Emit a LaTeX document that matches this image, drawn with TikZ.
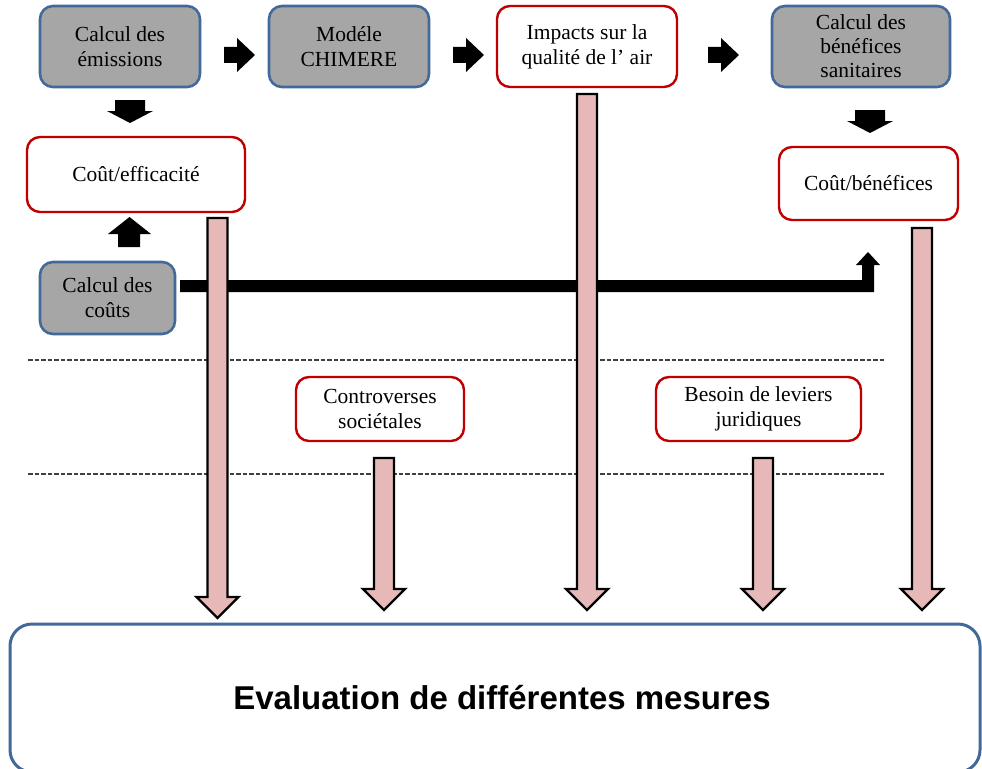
\documentclass[tikz,border=0pt]{standalone}
\usepackage{fontspec}
\setmainfont{Liberation Serif}
\newfontfamily\evalfont{Liberation Sans}
\definecolor{boxgray}{HTML}{A6A6A6}
\definecolor{boxblue}{HTML}{41699A}
\definecolor{boxred}{HTML}{C00000}
\definecolor{barpink}{HTML}{E6B9B8}
\definecolor{dashgray}{HTML}{404040}
\tikzset{
  graybox/.style={draw=boxblue, fill=boxgray, line width=2.6pt, rounded corners=13pt,
    align=center, inner sep=0pt, font=\fontsize{21.5}{25}\selectfont},
  redbox/.style={draw=boxred, fill=white, line width=2.4pt, rounded corners=13pt,
    align=center, inner sep=0pt, font=\fontsize{21.5}{25}\selectfont},
  blackarrow/.style={fill=black, draw=none},
  pinkbar/.style={fill=barpink, draw=black, line width=2.4pt, line join=miter},
  sepline/.style={draw=dashgray, line width=1.6pt, dash pattern=on 4.5pt off 2pt},
}
% block arrow pointing right: #1 = left x, #2 = centre y
\newcommand{\rblock}[2]{\fill[blackarrow] (#1,#2-8) -- (#1+13,#2-8) -- (#1+13,#2-17) -- (#1+31,#2) -- (#1+13,#2+17) -- (#1+13,#2+8) -- (#1,#2+8) -- cycle;}
% flat block arrow pointing down: #1 = centre x, #2 = top y
\newcommand{\dblock}[2]{\fill[blackarrow] (#1-15,#2) -- (#1+15,#2) -- (#1+15,#2+11) -- (#1+23,#2+11) -- (#1,#2+23) -- (#1-23,#2+11) -- (#1-15,#2+11) -- cycle;}
% pink down arrow: #1 = centre x, #2 = top y, #3 = tip y
\newcommand{\pinkarrow}[3]{\draw[pinkbar] (#1-10,#2) -- (#1+10,#2) -- (#1+10,#3-21) -- (#1+21,#3-21) -- (#1,#3) -- (#1-21,#3-21) -- (#1-10,#3-21) -- cycle;}
\begin{document}
\begin{tikzpicture}[x=1pt,y=-1pt]
\useasboundingbox (0,0) rectangle (982,768);
\fill[white] (0,0) rectangle (982,768);

% separators
\draw[sepline] (28,360) coordinate (s1a) -- (885,360) coordinate (s1b);
\draw[sepline] (28,474) coordinate (s2a) -- (885,474) coordinate (s2b);

% bottom box
\draw[draw=boxblue, line width=3pt, rounded corners=22pt, fill=white] (10,624) rectangle (980,772);
\node[font=\evalfont\bfseries\fontsize{33}{38}\selectfont] (ev) at (502,698) {Evaluation de différentes mesures};

% top row
\node[graybox, minimum width=160pt, minimum height=81pt] (b1) at (120,46.5) {Calcul des\\émissions};
\node[graybox, minimum width=160pt, minimum height=81pt] (b2) at (349,46.5) {Modéle\\CHIMERE};
\node[redbox, minimum width=180pt, minimum height=81pt] (b3) at (587,46.5) {Impacts sur la\\qualité de l’ air};
\node[graybox, minimum width=178pt, minimum height=81pt, font=\fontsize{21.5}{24}\selectfont] (b4) at (861,46.5) {Calcul des\\bénéfices\\sanitaires};

% second level
\node[redbox, minimum width=218pt, minimum height=75pt] (ce) at (136,174.5) {Coût/efficacité};
\node[graybox, minimum width=135pt, minimum height=72pt] (cc) at (107.5,298) {Calcul des\\coûts};
\node[redbox, minimum width=179pt, minimum height=73pt] (cb) at (868.5,183.5) {Coût/bénéfices};

% middle band
\node[redbox, minimum width=168pt, minimum height=64pt] (cs) at (380,409) {Controverses\\sociétales};
\node[redbox, minimum width=205pt, minimum height=64pt] (bj) at (758.5,409) {Besoin de leviers\\juridiques};

% black arrows between boxes
\rblock{224}{55}
\rblock{453}{55}
\rblock{708}{55}
\dblock{130}{100}
\dblock{870}{110}
% up arrow from Calcul des coûts to Coût/efficacité
\fill[blackarrow] (118,247) -- (140,247) -- (140,234) -- (151,234) -- (129.5,217) -- (108,234) -- (118,234) -- cycle;
% thick connector from Calcul des coûts to Coût/bénéfices
\fill[blackarrow] (180,280) -- (862,280) -- (862,265) -- (856,265) -- (868,252) -- (880,265) -- (874,265) -- (874,292) -- (180,292) -- cycle;

% pink arrows into the evaluation box
\pinkarrow{217.5}{218}{618}
\pinkarrow{384}{458}{610}
\pinkarrow{587}{94}{610}
\pinkarrow{763}{458}{610}
\pinkarrow{922}{228}{610}
\end{tikzpicture}
\end{document}
